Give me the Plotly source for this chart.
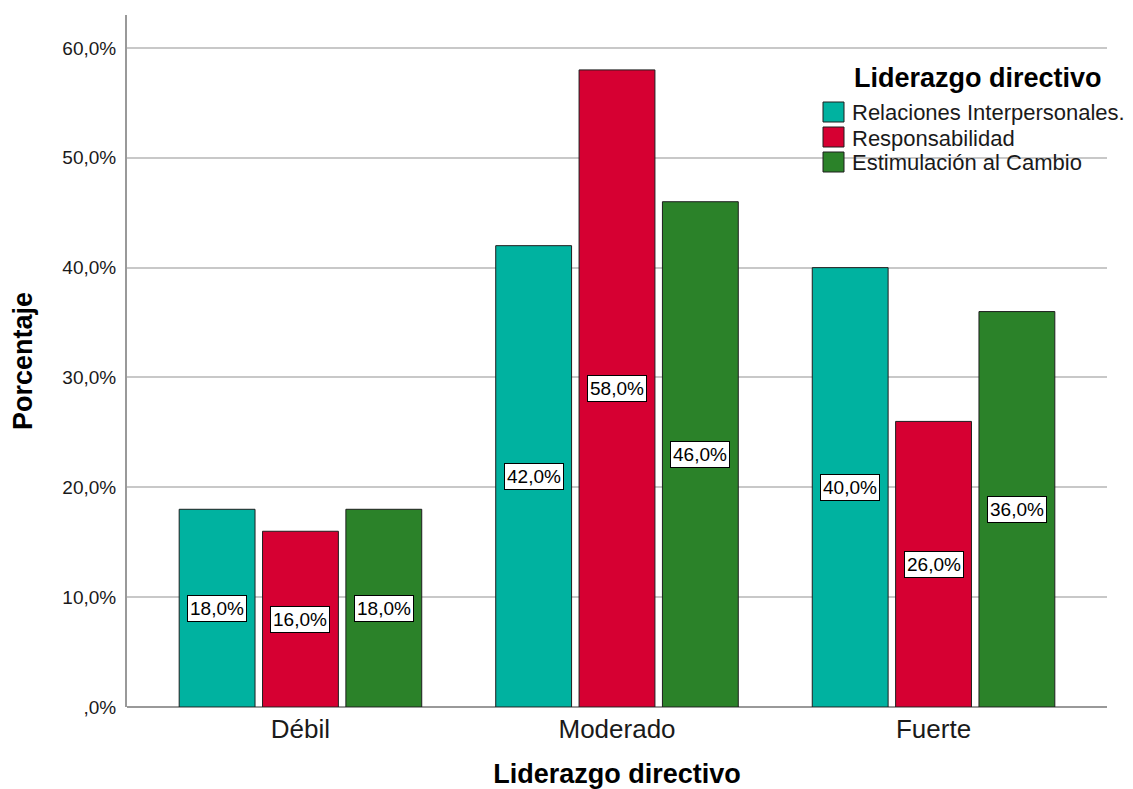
import plotly.graph_objects as go

# Data
categorias = ["Débil", "Moderado", "Fuerte"]
series_nombres = ["Relaciones Interpersonales.", "Responsabilidad", "Estimulación al Cambio"]
relaciones = [18.0, 42.0, 40.0]
responsabilidad = [16.0, 58.0, 26.0]
estimulacion = [18.0, 46.0, 36.0]
y_ticks = [0, 10, 20, 30, 40, 50, 60]
y_tick_text = [",0%", "10,0%", "20,0%", "30,0%", "40,0%", "50,0%", "60,0%"]

colores = ["#00B2A0", "#D60032", "#2B8229"]
FONT = "Liberation Sans, Arial, sans-serif"

W, H = 1133, 789
M = dict(l=127, r=26, t=15, b=82)
BARGAP = 0.21
BARGROUPGAP = 0.09
PW = W - M["l"] - M["r"]
PH = H - M["t"] - M["b"]


def px_x(px):
    return (px - M["l"]) / PW


def px_y(py):
    return (H - M["b"] - py) / PH


series = [relaciones, responsabilidad, estimulacion]
x = list(range(len(categorias)))

fig = go.Figure()
for nombre, vals, color in zip(series_nombres, series, colores):
    fig.add_trace(go.Bar(
        x=x, y=vals, name=nombre,
        marker=dict(color=color, line=dict(color="#1e1e1e", width=1)),
        showlegend=False,
    ))

# Value labels in white boxes at the middle of each bar
slot = (1 - BARGAP) / len(series)
for i, vals in enumerate(series):
    off = (i - (len(series) - 1) / 2) * slot
    for xi, v in zip(x, vals):
        fig.add_annotation(
            x=xi + off, y=v / 2, xref="x", yref="y",
            text=f"{v:.1f}%".replace(".", ","),
            showarrow=False,
            font=dict(family=FONT, size=19, color="#000000"),
            bgcolor="#FFFFFF", bordercolor="#000000", borderwidth=1, borderpad=2,
        )

# Legend drawn as swatches and text
fig.add_annotation(
    x=px_x(978), y=px_y(78), xref="paper", yref="paper",
    text="Liderazgo directivo", showarrow=False, xanchor="center", yanchor="middle",
    font=dict(family=FONT, size=27, color="#000000", weight="bold"),
)
for k, (nombre, color) in enumerate(zip(series_nombres, colores)):
    top = 102 + 25 * k
    fig.add_shape(
        type="rect", xref="paper", yref="paper",
        x0=px_x(823), x1=px_x(844), y0=px_y(top + 20), y1=px_y(top),
        fillcolor=color, line=dict(color="#1e1e1e", width=1),
    )
    fig.add_annotation(
        x=px_x(850), y=px_y(top + 11), xref="paper", yref="paper",
        text=nombre, showarrow=False, xanchor="left", yanchor="middle",
        font=dict(family=FONT, size=22, color="#1a1a1a"),
    )

fig.update_layout(
    width=W, height=H,
    margin=M,
    paper_bgcolor="#FFFFFF", plot_bgcolor="#FFFFFF",
    barmode="group", bargap=BARGAP, bargroupgap=BARGROUPGAP,
    font=dict(family=FONT, color="#1a1a1a"),
    xaxis=dict(
        range=[-0.548, 2.548],
        tickvals=x, ticktext=categorias,
        tickfont=dict(family=FONT, size=26, color="#1a1a1a"),
        showgrid=False, zeroline=False,
        showline=False, ticks="", ticklabelstandoff=4,
        automargin=False,
        title=dict(text="Liderazgo directivo", standoff=26,
                   font=dict(family=FONT, size=27, color="#000000", weight="bold")),
    ),
    yaxis=dict(
        range=[0, 63],
        tickvals=y_ticks, ticktext=y_tick_text,
        tickfont=dict(family=FONT, size=19, color="#1a1a1a"),
        showgrid=True, gridcolor="#C8C8C8", gridwidth=1.5,
        zeroline=True, zerolinecolor="#999999", zerolinewidth=2,
        showline=True, linecolor="#999999", linewidth=2,
        ticks="", ticklabelstandoff=5,
        automargin=False,
        title=dict(text="Porcentaje", standoff=22,
                   font=dict(family=FONT, size=27, color="#000000", weight="bold")),
    ),
)

fig.write_html("out.html")
